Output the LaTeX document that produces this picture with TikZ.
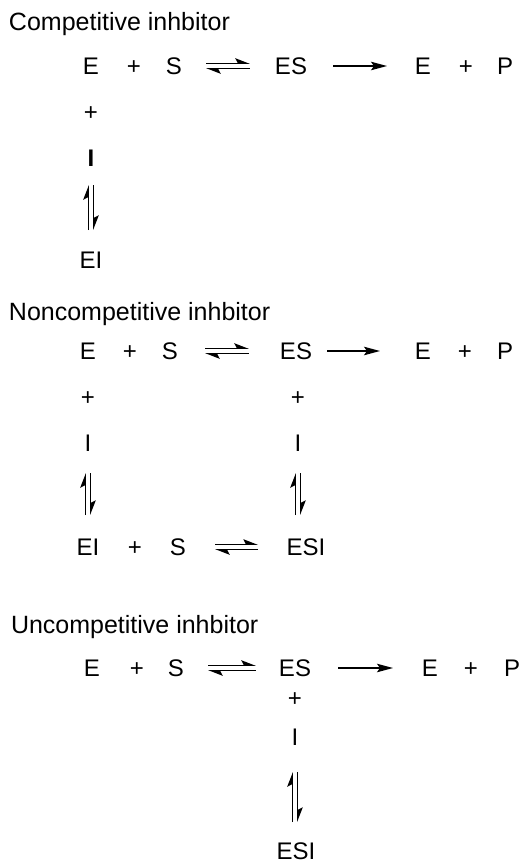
\documentclass[tikz,border=0pt]{standalone}
\usepackage{fontspec}
\setmainfont{Liberation Sans}
\usetikzlibrary{arrows.meta,calc}
\tikzset{
  sp/.style={inner sep=0pt, outer sep=0pt, text height=17.2pt, text depth=0pt, font=\fontsize{24}{28}\selectfont},
  ttl/.style={inner sep=0pt, outer sep=0pt, anchor=west, text height=17.9pt, text depth=0pt, font=\fontsize{25}{30}\selectfont},
  eqline/.style={line width=1.3pt, -{Stealth[left,length=13pt,width=10pt,inset=2.5pt]}},
  fwd/.style={line width=1.3pt, -{Stealth[length=16pt,width=8.5pt,inset=3pt]}}
}
\newcommand\horeq[4]{%
  \draw[eqline,shorten <=#3,shorten >=#4] ([yshift=2.75pt]#1.east) -- ([yshift=2.75pt]#2.west);
  \draw[eqline,shorten <=#4,shorten >=#3] ([yshift=-2.75pt]#2.west) -- ([yshift=-2.75pt]#1.east);}
\newcommand\vereq[4]{%
  \draw[eqline,shorten <=#4,shorten >=#3] ($(#1.south|-#2.north)+(-2.75pt,0pt)$) -- ($(#1.south)+(-2.75pt,0pt)$);
  \draw[eqline,shorten <=#3,shorten >=#4] ($(#1.south)+(2.75pt,0pt)$) -- ($(#1.south|-#2.north)+(2.75pt,0pt)$);}
\begin{document}
\begin{tikzpicture}[x=1pt,y=-1pt]
\useasboundingbox (0,0) rectangle (525,863);
% ---------- Competitive
\node[ttl] (t1) at (9,21.5) {Competitive inhbitor};
\node[sp] (E1) at (91,66) {E};
\node[sp] (p1) at (134,66) {+};
\node[sp] (S1) at (174,66) {S};
\node[sp] (ES1) at (291,66) {ES};
\node[sp] (E1b) at (423,66) {E};
\node[sp] (p1b) at (466,66) {+};
\node[sp] (P1) at (505,66) {P};
\node[sp] (p1c) at (91,112) {+};
\node[sp] (I1) at (91,158) {\bfseries I};
\node[sp] (EI1) at (91,260) {EI};
\horeq{S1}{ES1}{24pt}{25pt}
\draw[fwd,shorten <=26pt,shorten >=28pt] (ES1) -- (E1b);
\vereq{I1}{EI1}{18.4pt}{21.4pt}
% ---------- Noncompetitive
\node[ttl] (t2) at (9,312) {Noncompetitive inhbitor};
\node[sp] (E2) at (88,351) {E};
\node[sp] (p2) at (130,351) {+};
\node[sp] (S2) at (170,351) {S};
\node[sp] (ES2) at (296,351) {ES};
\node[sp] (E2b) at (423,351) {E};
\node[sp] (p2b) at (465,351) {+};
\node[sp] (P2) at (505,351) {P};
\node[sp] (p2c) at (88,397) {+};
\node[sp] (p2d) at (298,397) {+};
\node[sp] (I2a) at (88,443) {I};
\node[sp] (I2b) at (298,443) {I};
\node[sp] (EI2) at (88,547) {EI};
\node[sp] (p2e) at (135,547) {+};
\node[sp] (S2e) at (178,547) {S};
\node[sp] (ESI2) at (306,547) {ESI};
\horeq{S2}{ES2}{27pt}{31pt}
\draw[fwd,shorten <=15pt,shorten >=35pt] (ES2) -- (E2b);
\vereq{I2a}{EI2}{21.4pt}{23.4pt}
\vereq{I2b}{ESI2}{21.4pt}{23.4pt}
\horeq{S2e}{ESI2}{29pt}{28.6pt}
% ---------- Uncompetitive
\node[ttl] (t3) at (11,625) {Uncompetitive inhbitor};
\node[sp] (E3) at (92,668) {E};
\node[sp] (p3) at (137,668) {+};
\node[sp] (S3) at (176,668) {S};
\node[sp] (ES3) at (295,668) {ES};
\node[sp] (E3b) at (430,668) {E};
\node[sp] (p3b) at (471,668) {+};
\node[sp] (P3) at (512,668) {P};
\node[sp] (p3c) at (295,698) {+};
\node[sp] (I3) at (295,737) {I};
\node[sp] (ESI3) at (296,851) {ESI};
\horeq{S3}{ES3}{24pt}{23pt}
\draw[fwd,shorten <=27pt,shorten >=29pt] (ES3) -- (E3b);
\vereq{I3}{ESI3}{26.4pt}{20.4pt}
\end{tikzpicture}
\end{document}
